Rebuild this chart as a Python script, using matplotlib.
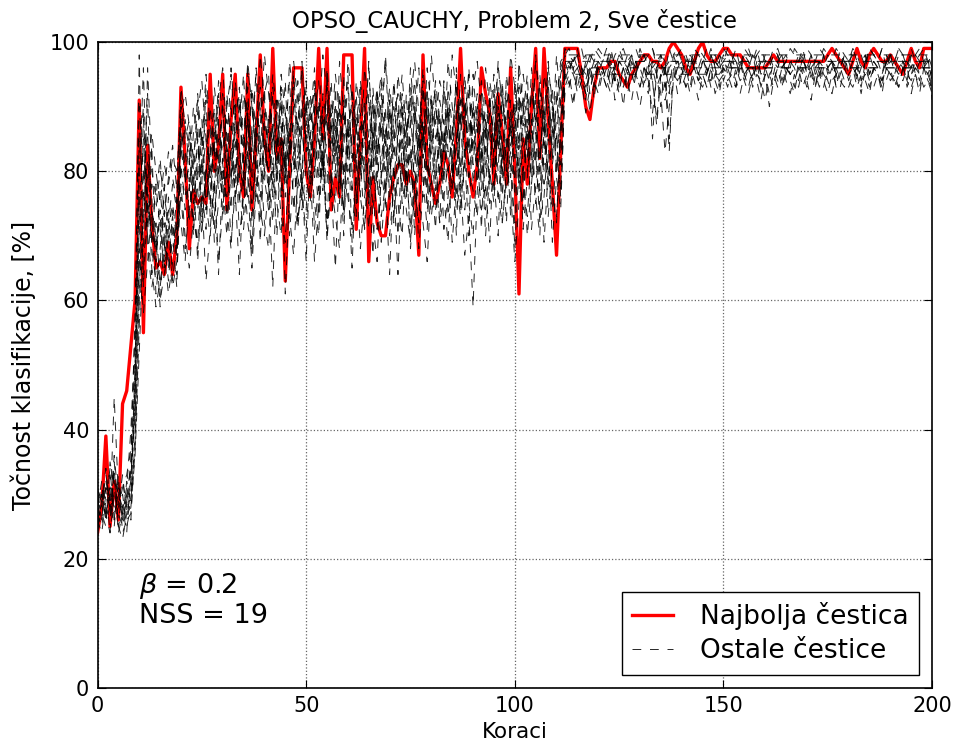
import numpy as np
import matplotlib
matplotlib.use("Agg")
import matplotlib.pyplot as plt

# best particle (red)
najbolja = [24, 28, 39, 25, 32, 26, 44, 46, 53, 60, 91,
            55, 84, 72, 65, 66, 64, 69, 64, 70, 93,
            82, 68, 77, 75, 76, 75, 95, 80, 84, 95,
            74, 88, 95, 80, 76, 95, 74, 85, 98, 85,
            80, 99, 82, 85, 63, 80, 96, 96, 96, 80,
            76, 85, 99, 85, 99, 74, 79, 76, 98, 98,
            98, 71, 85, 99, 66, 79, 72, 70, 70, 76,
            79, 81, 81, 78, 80, 78, 67, 98, 81, 78,
            75, 78, 83, 81, 76, 86, 99, 85, 80, 76,
            81, 96, 92, 89, 78, 92, 86, 78, 96, 80,
            61, 85, 78, 90, 99, 82, 99, 88, 78, 67, 83,
            99, 99, 99, 99, 95, 90, 88, 93, 96,
            96, 96, 97, 97, 95, 94, 93, 95, 96, 97,
            98, 98, 97, 97, 96, 97, 99, 100, 99, 98,
            96, 95, 97, 99, 100, 98, 97, 97, 98, 99,
            99, 98, 98, 98, 97, 96, 96, 96, 96, 96,
            97, 98, 97, 97, 97, 97, 97, 97, 97, 97,
            97, 97, 97, 97, 98, 99, 98, 97, 96, 95,
            97, 99, 97, 96, 98, 99, 98, 97, 97, 98,
            97, 96, 95, 97, 99, 97, 96, 99, 99, 99]

# other particles (black dashed)
ostale = [
    [27, 30, 26, 33, 29, 25, 28, 31, 40, 55, 98,
     62, 75, 70, 68, 73, 66, 71, 75, 69, 88,
     80, 74, 78, 85, 72, 79, 90, 83, 77, 92,
     84, 79, 88, 93, 81, 76, 87, 95, 82, 78,
     89, 84, 91, 80, 86, 94, 83, 77, 90, 85,
     81, 92, 88, 79, 95, 84, 90, 78, 86, 93,
     82, 87, 76, 91, 85, 80, 89, 94, 83, 79,
     88, 92, 81, 86, 90, 77, 84, 96, 88, 82,
     91, 85, 79, 93, 87, 81, 95, 89, 84, 90,
     86, 92, 80, 88, 95, 83, 91, 87, 79, 94,
     85, 90, 82, 96, 88, 93, 84, 97, 89, 80, 92,
     97, 97, 96, 97, 95, 93, 96, 97, 97,
     96, 97, 97, 94, 97, 97, 96, 97, 95, 97,
     97, 97, 96, 97, 97, 93, 97, 97, 97, 96,
     97, 97, 97, 95, 97, 97, 97, 97, 96, 97,
     97, 97, 97, 97, 97, 97, 94, 97, 97, 97,
     97, 97, 97, 96, 97, 97, 97, 97, 97, 97,
     95, 97, 97, 97, 97, 97, 96, 97, 97, 97,
     97, 97, 94, 97, 97, 97, 97, 97, 96, 97,
     97, 97, 97, 97, 95, 97, 97, 97, 97, 97],
    [25, 29, 34, 27, 45, 30, 26, 29, 35, 48, 70,
     85, 68, 62, 66, 60, 64, 70, 67, 72, 80,
     76, 82, 71, 79, 86, 74, 81, 77, 88, 73,
     80, 91, 75, 83, 78, 89, 72, 85, 93, 79,
     74, 86, 81, 90, 76, 83, 88, 72, 80, 91,
     78, 84, 73, 89, 82, 76, 93, 80, 74, 87,
     90, 75, 83, 79, 71, 86, 81, 92, 77, 84,
     73, 80, 89, 76, 85, 70, 82, 88, 75, 91,
     79, 72, 86, 83, 77, 90, 74, 81, 95, 78,
     84, 71, 88, 79, 82, 93, 76, 85, 73, 89,
     80, 75, 92, 78, 86, 74, 83, 90, 77, 72, 88,
     96, 96, 96, 96, 96, 92, 96, 96, 96,
     96, 96, 96, 96, 93, 96, 96, 96, 96, 96,
     96, 95, 96, 96, 96, 96, 96, 96, 96, 96,
     96, 96, 96, 96, 96, 96, 96, 96, 96, 96,
     96, 96, 96, 96, 96, 96, 96, 96, 96, 96,
     96, 96, 96, 96, 96, 96, 96, 96, 96, 96,
     96, 96, 96, 96, 96, 96, 96, 96, 96, 96,
     96, 96, 96, 96, 96, 96, 96, 96, 96, 96,
     96, 96, 96, 96, 96, 96, 96, 96, 96, 96],
    [30, 26, 31, 24, 35, 28, 33, 27, 30, 45, 78,
     96, 72, 78, 74, 80, 77, 83, 79, 75, 91,
     85, 88, 80, 92, 84, 95, 87, 82, 94, 89,
     83, 96, 88, 92, 85, 97, 90, 84, 98, 91,
     86, 95, 89, 93, 82, 97, 91, 87, 96, 90,
     85, 94, 88, 98, 92, 86, 95, 89, 83, 97,
     91, 87, 94, 88, 96, 84, 92, 89, 97, 85,
     93, 88, 95, 86, 91, 97, 89, 84, 96, 90,
     87, 94, 91, 85, 98, 92, 88, 95, 86, 93,
     97, 90, 85, 94, 89, 96, 91, 87, 98, 93,
     88, 95, 90, 86, 97, 92, 89, 96, 91, 85, 94,
     99, 98, 97, 99, 96, 94, 97, 99, 98,
     97, 99, 96, 98, 99, 97, 95, 98, 99, 97,
     98, 96, 99, 97, 98, 95, 99, 97, 98, 99,
     97, 98, 96, 99, 98, 97, 99, 96, 98, 97,
     99, 98, 97, 96, 99, 98, 97, 99, 96, 98,
     97, 99, 98, 96, 97, 99, 98, 97, 99, 96,
     98, 97, 99, 98, 96, 97, 99, 98, 97, 96,
     99, 97, 98, 96, 99, 98, 97, 99, 98, 96,
     97, 99, 98, 97, 96, 98, 99, 97, 98, 96],
    [28, 32, 27, 30, 26, 33, 24, 26, 29, 38, 60,
     74, 80, 65, 59, 63, 67, 61, 66, 64, 78,
     70, 65, 73, 68, 76, 63, 71, 79, 66, 74,
     82, 69, 77, 64, 80, 72, 67, 85, 74, 70,
     78, 62, 81, 73, 69, 84, 76, 71, 79, 66,
     83, 75, 70, 86, 72, 78, 65, 81, 74, 88,
     69, 76, 82, 71, 79, 67, 84, 73, 78, 64,
     80, 75, 70, 83, 68, 77, 72, 86, 74, 79,
     71, 85, 76, 69, 82, 74, 78, 67, 73, 59,
     77, 84, 70, 80, 75, 88, 72, 79, 83, 68,
     81, 74, 87, 71, 78, 84, 69, 80, 76, 73, 85,
     95, 93, 96, 92, 94, 89, 93, 95, 96,
     94, 96, 93, 95, 92, 96, 94, 91, 95, 93,
     96, 94, 89, 95, 92, 83, 90, 94, 96, 93,
     95, 92, 96, 94, 93, 95, 97, 94, 92, 96,
     94, 95, 93, 96, 94, 92, 95, 96, 93, 95,
     90, 94, 96, 93, 95, 94, 92, 96, 95, 93,
     95, 93, 96, 94, 92, 95, 96, 94, 93, 95,
     96, 93, 95, 94, 92, 96, 95, 93, 94, 96,
     93, 95, 94, 96, 93, 95, 92, 96, 94, 93],
    [26, 24, 29, 31, 27, 29, 32, 28, 33, 42, 65,
     79, 86, 73, 69, 71, 76, 72, 78, 74, 85,
     79, 72, 83, 77, 70, 81, 75, 86, 80, 76,
     88, 82, 78, 91, 84, 80, 93, 86, 81, 89,
     83, 92, 78, 87, 80, 90, 85, 79, 88, 94,
     82, 87, 91, 80, 85, 89, 83, 92, 79, 84,
     88, 81, 93, 77, 86, 90, 82, 87, 80, 91,
     85, 78, 89, 83, 92, 81, 86, 76, 90, 84,
     88, 80, 94, 83, 87, 79, 91, 85, 82, 89,
     81, 90, 86, 78, 93, 84, 88, 80, 91, 85,
     79, 92, 84, 88, 81, 95, 86, 80, 90, 83, 87,
     97, 97, 97, 97, 97, 97, 97, 91, 97,
     97, 97, 97, 97, 97, 97, 97, 97, 97, 97,
     97, 97, 97, 97, 97, 97, 97, 97, 97, 97,
     97, 97, 97, 97, 97, 97, 97, 97, 97, 97,
     97, 97, 97, 97, 97, 97, 97, 97, 97, 97,
     97, 97, 97, 97, 97, 97, 97, 97, 97, 97,
     97, 97, 97, 97, 97, 97, 97, 97, 97, 97,
     97, 97, 97, 97, 97, 97, 97, 97, 97, 97,
     97, 97, 97, 97, 97, 97, 97, 97, 97, 97],
    [29, 27, 25, 35, 31, 26, 30, 25, 28, 36, 52,
     68, 96, 80, 76, 82, 73, 79, 84, 77, 93,
     87, 81, 90, 84, 78, 93, 86, 80, 91, 96,
     85, 78, 94, 88, 82, 96, 90, 83, 87, 98,
     92, 86, 80, 95, 89, 84, 97, 91, 85, 93,
     88, 96, 82, 90, 86, 94, 80, 97, 89, 85,
     93, 87, 81, 96, 90, 84, 92, 86, 98, 88,
     83, 95, 89, 85, 93, 87, 96, 82, 91, 86,
     94, 88, 83, 97, 90, 85, 92, 87, 96, 81,
     89, 94, 86, 91, 84, 97, 88, 93, 85, 90,
     95, 87, 92, 83, 98, 89, 86, 94, 82, 91, 96,
     98, 99, 97, 98, 99, 96, 98, 97, 99,
     98, 97, 99, 96, 98, 99, 97, 98, 96, 99,
     97, 98, 99, 96, 98, 97, 92, 98, 99, 97,
     98, 96, 99, 98, 97, 99, 98, 96, 97, 99,
     98, 97, 99, 96, 98, 99, 97, 98, 99, 97,
     96, 98, 99, 97, 98, 96, 99, 98, 97, 99,
     98, 96, 97, 99, 98, 97, 96, 99, 98, 97,
     99, 98, 96, 97, 99, 98, 97, 99, 96, 98,
     97, 99, 98, 96, 99, 97, 98, 99, 97, 95],
    [24, 30, 28, 26, 34, 25, 23, 27, 31, 50, 82,
     90, 70, 64, 72, 62, 68, 74, 63, 70, 76,
     68, 74, 80, 66, 77, 71, 84, 69, 75, 82,
     73, 79, 86, 70, 76, 83, 68, 78, 72, 87,
     75, 81, 70, 85, 61, 77, 83, 72, 79, 74,
     86, 71, 78, 83, 69, 80, 75, 88, 73, 79,
     65, 82, 76, 71, 85, 74, 80, 69, 78, 83,
     72, 87, 75, 80, 71, 84, 68, 77, 82, 73,
     79, 86, 71, 76, 83, 70, 89, 74, 80, 77,
     73, 82, 88, 75, 79, 70, 85, 77, 81, 72,
     86, 78, 73, 83, 76, 70, 88, 79, 74, 82, 77,
     94, 96, 95, 93, 96, 95, 89, 94, 96,
     95, 93, 96, 94, 95, 90, 96, 94, 95, 93,
     96, 95, 94, 87, 95, 96, 93, 95, 94, 96,
     93, 95, 96, 94, 95, 93, 96, 95, 94, 96,
     95, 93, 96, 94, 95, 96, 93, 95, 94, 91,
     95, 96, 94, 93, 96, 95, 94, 96, 93, 95,
     96, 94, 95, 93, 96, 94, 95, 96, 94, 93,
     95, 96, 94, 95, 93, 96, 95, 94, 96, 95,
     94, 93, 96, 95, 94, 96, 95, 93, 94, 96],
    [31, 28, 33, 29, 25, 32, 27, 30, 26, 40, 62,
     77, 70, 84, 66, 74, 69, 63, 72, 68, 90,
     83, 77, 86, 91, 79, 85, 73, 88, 82, 78,
     92, 84, 79, 87, 95, 81, 86, 76, 90, 84,
     80, 93, 87, 76, 89, 82, 95, 86, 79, 91,
     84, 79, 90, 85, 93, 78, 87, 82, 95, 80,
     86, 92, 79, 88, 83, 91, 77, 89, 84, 93,
     87, 81, 90, 78, 88, 94, 83, 86, 80, 92,
     85, 89, 78, 91, 84, 95, 80, 87, 92, 83,
     88, 79, 91, 84, 87, 80, 94, 83, 89, 76,
     92, 85, 80, 93, 87, 82, 90, 78, 86, 94, 81,
     96, 97, 95, 96, 97, 98, 92, 96, 97,
     95, 97, 96, 94, 97, 96, 98, 95, 97, 96,
     94, 97, 85, 96, 97, 95, 83, 96, 97, 95,
     97, 96, 98, 95, 97, 96, 94, 97, 96, 98,
     95, 97, 96, 97, 95, 96, 98, 97, 95, 96,
     97, 95, 98, 96, 97, 95, 96, 97, 98, 95,
     96, 97, 95, 98, 96, 97, 95, 96, 98, 97,
     95, 96, 97, 98, 95, 97, 96, 95, 97, 98,
     96, 95, 97, 96, 98, 97, 95, 96, 97, 94],
    [27, 25, 30, 28, 32, 30, 28, 24, 35, 58, 90,
     80, 76, 69, 78, 71, 65, 76, 70, 62, 84,
     78, 85, 75, 82, 88, 76, 83, 90, 79, 86,
     81, 74, 89, 83, 77, 91, 80, 87, 83, 93,
     77, 88, 83, 91, 79, 86, 81, 94, 76, 87,
     92, 80, 85, 77, 90, 83, 88, 75, 91, 82,
     77, 89, 84, 80, 92, 78, 86, 81, 90, 76,
     90, 84, 77, 92, 81, 88, 79, 85, 93, 78,
     83, 91, 87, 80, 86, 93, 78, 90, 81, 87,
     92, 77, 84, 89, 80, 86, 93, 81, 87, 91,
     77, 89, 95, 81, 84, 91, 78, 87, 93, 80, 86,
     97, 95, 98, 96, 94, 97, 95, 93, 97,
     96, 94, 98, 95, 97, 96, 93, 97, 95, 98,
     96, 93, 97, 95, 90, 97, 85, 94, 96, 97,
     95, 98, 96, 94, 97, 95, 98, 96, 93, 97,
     96, 98, 95, 97, 94, 96, 98, 95, 97, 96,
     94, 97, 96, 98, 95, 97, 96, 94, 98, 95,
     97, 96, 94, 98, 95, 97, 93, 96, 98, 95,
     97, 94, 96, 98, 95, 97, 96, 94, 97, 98,
     95, 97, 96, 94, 98, 95, 97, 96, 95, 97],
    [25, 27, 31, 30, 28, 27, 25, 29, 32, 46, 72,
     88, 74, 72, 67, 77, 70, 65, 74, 71, 86,
     80, 86, 78, 74, 83, 88, 79, 84, 92, 81,
     76, 87, 83, 90, 79, 85, 92, 80, 76, 88,
     84, 78, 91, 86, 80, 88, 93, 82, 86, 80,
     90, 85, 79, 92, 87, 81, 86, 90, 78, 88,
     84, 80, 89, 85, 78, 93, 83, 88, 75, 90,
     82, 89, 84, 79, 87, 91, 80, 88, 84, 90,
     77, 88, 83, 90, 79, 84, 91, 82, 88, 85,
     80, 89, 83, 87, 77, 90, 84, 80, 88, 82,
     90, 83, 86, 79, 92, 85, 81, 88, 84, 91, 97,
     98, 98, 98, 98, 98, 98, 98, 98, 98,
     98, 98, 98, 98, 98, 98, 98, 98, 98, 98,
     98, 98, 98, 98, 98, 98, 98, 98, 98, 98,
     98, 98, 98, 98, 98, 98, 98, 98, 98, 98,
     98, 98, 98, 98, 98, 98, 98, 98, 98, 98,
     98, 98, 98, 98, 98, 98, 98, 98, 98, 98,
     98, 98, 98, 98, 98, 98, 98, 98, 98, 98,
     98, 98, 98, 98, 98, 98, 98, 98, 98, 98,
     98, 98, 98, 98, 98, 98, 98, 98, 98, 98],
    [30, 29, 27, 24, 30, 31, 29, 26, 27, 37, 56,
     72, 82, 76, 61, 68, 74, 67, 62, 66, 81,
     74, 79, 70, 87, 73, 80, 76, 71, 85, 78,
     70, 83, 76, 81, 73, 88, 75, 82, 69, 84,
     79, 72, 86, 77, 83, 70, 80, 88, 74, 81,
     75, 90, 77, 82, 72, 87, 79, 84, 70, 86,
     78, 73, 87, 82, 76, 84, 71, 79, 86, 74,
     81, 70, 85, 77, 83, 73, 88, 79, 71, 86,
     74, 80, 88, 73, 79, 85, 76, 82, 70, 91,
     78, 86, 74, 81, 90, 76, 83, 72, 87, 79,
     84, 71, 79, 88, 75, 82, 90, 73, 81, 86, 76,
     92, 94, 90, 95, 93, 91, 96, 94, 92,
     95, 93, 96, 91, 94, 96, 92, 95, 93, 90,
     94, 92, 96, 93, 95, 91, 94, 96, 92, 95,
     93, 96, 94, 91, 95, 93, 96, 92, 94, 95,
     93, 96, 94, 92, 95, 93, 96, 94, 91, 95,
     92, 95, 93, 96, 94, 92, 95, 93, 96, 94,
     91, 95, 93, 96, 94, 92, 95, 93, 96, 94,
     93, 95, 92, 96, 94, 93, 95, 92, 96, 94,
     95, 93, 96, 94, 92, 95, 93, 96, 94, 92],
    [26, 31, 29, 34, 26, 28, 31, 33, 37, 52, 76,
     64, 78, 86, 80, 75, 81, 78, 82, 80, 89,
     92, 87, 82, 89, 94, 85, 80, 93, 87, 83,
     90, 95, 86, 79, 92, 88, 83, 96, 89, 92,
     95, 81, 88, 84, 94, 79, 90, 86, 97, 83,
     89, 93, 85, 80, 96, 87, 82, 91, 88, 95,
     80, 94, 88, 85, 97, 82, 90, 95, 87, 81,
     94, 86, 91, 83, 96, 88, 82, 93, 87, 98,
     90, 84, 93, 88, 80, 96, 86, 91, 83, 95,
     87, 82, 96, 90, 86, 93, 80, 95, 89, 84,
     97, 90, 85, 92, 88, 80, 95, 91, 86, 98, 90,
     95, 95, 95, 95, 95, 95, 95, 95, 95,
     95, 95, 95, 95, 95, 95, 95, 95, 95, 95,
     95, 95, 95, 95, 95, 95, 95, 95, 95, 95,
     95, 95, 95, 95, 95, 95, 95, 95, 95, 96,
     96, 96, 96, 96, 96, 96, 96, 96, 96, 96,
     96, 96, 96, 96, 96, 96, 96, 96, 96, 96,
     96, 96, 96, 96, 96, 96, 96, 96, 96, 96,
     96, 96, 96, 96, 96, 96, 96, 96, 96, 96,
     96, 96, 96, 96, 96, 96, 96, 96, 96, 96],
    [28, 26, 32, 29, 33, 24, 27, 30, 34, 44, 68,
     58, 66, 74, 70, 59, 72, 66, 69, 76, 72,
     66, 78, 73, 69, 82, 75, 70, 78, 64, 80,
     74, 68, 81, 76, 71, 79, 65, 77, 82, 72,
     68, 80, 75, 70, 83, 73, 67, 79, 76, 71,
     80, 66, 75, 82, 70, 78, 73, 68, 81, 76,
     71, 79, 68, 76, 82, 72, 66, 80, 75, 70,
     78, 64, 81, 74, 69, 80, 75, 72, 66, 79,
     83, 72, 76, 81, 69, 78, 73, 84, 75, 70,
     82, 74, 78, 69, 85, 76, 72, 80, 77, 66,
     75, 81, 70, 78, 83, 72, 76, 85, 69, 79, 74,
     93, 95, 91, 96, 94, 92, 95, 97, 93,
     96, 94, 92, 97, 95, 93, 96, 94, 97, 95,
     93, 96, 94, 88, 95, 93, 96, 97, 94, 95,
     96, 93, 97, 95, 94, 96, 93, 95, 97, 94,
     96, 94, 93, 97, 95, 96, 94, 97, 93, 96,
     95, 93, 97, 94, 96, 95, 93, 97, 95, 94,
     96, 93, 97, 95, 94, 96, 93, 95, 97, 94,
     96, 95, 93, 97, 94, 96, 95, 93, 97, 95,
     94, 96, 97, 93, 95, 96, 94, 97, 95, 93],
    [29, 31, 26, 28, 36, 29, 26, 32, 29, 48, 86,
     76, 92, 68, 63, 65, 78, 69, 73, 67, 83,
     88, 83, 76, 80, 86, 91, 78, 73, 81, 90,
     79, 86, 91, 75, 83, 93, 77, 89, 85, 80,
     88, 76, 84, 92, 78, 87, 74, 83, 91, 86,
     79, 89, 94, 83, 78, 91, 85, 76, 90, 82,
     92, 85, 80, 89, 75, 87, 93, 78, 86, 91,
     79, 85, 92, 87, 76, 90, 84, 94, 77, 88,
     93, 78, 85, 90, 82, 76, 88, 93, 79, 86,
     90, 85, 77, 92, 83, 89, 79, 91, 84, 87,
     93, 80, 88, 84, 91, 77, 86, 93, 82, 88, 95,
     98, 96, 97, 98, 95, 96, 98, 97, 95,
     97, 98, 95, 96, 98, 97, 96, 98, 95, 97,
     98, 96, 97, 95, 98, 96, 97, 98, 96, 97,
     95, 98, 97, 96, 98, 95, 97, 98, 96, 97,
     98, 96, 97, 95, 98, 97, 96, 98, 95, 97,
     98, 96, 97, 98, 95, 97, 96, 98, 97, 96,
     98, 95, 97, 96, 98, 97, 95, 98, 96, 97,
     98, 96, 95, 97, 98, 96, 97, 95, 98, 97,
     96, 98, 97, 95, 96, 98, 97, 96, 98, 91],
]

plt.rcParams['mathtext.fontset'] = 'dejavusans'

fig = plt.figure(figsize=(9.56, 7.43), dpi=100)
ax = fig.add_axes([0.102, 0.074, 0.873, 0.8695])

ax.plot(np.arange(len(najbolja)), najbolja, color='red', lw=2.4,
        label='Najbolja čestica')
for i, p in enumerate(ostale):
    ax.plot(np.arange(len(p)), p, color='black', lw=0.7,
            linestyle=(0, (9, 9)), alpha=0.85,
            label='Ostale čestice' if i == 0 else None)

ax.set_xlim(0, 200)
ax.set_ylim(0, 100)
ax.set_xticks([0, 50, 100, 150, 200])
ax.set_yticks([0, 20, 40, 60, 80, 100])
ax.tick_params(direction='in', top=True, right=True, labelsize=15, length=6,
               pad=6)
ax.grid(True, color='0.4', linestyle=':', linewidth=0.9)
for s in ax.spines.values():
    s.set_linewidth(1.2)

ax.set_title('OPSO_CAUCHY, Problem 2, Sve čestice', fontsize=16.5, pad=10)
ax.set_xlabel('Koraci', fontsize=15.5)
ax.set_ylabel('Točnost klasifikacije, [%]', fontsize=17, labelpad=10)

ax.text(10, 10, r'$\beta$ = 0.2' + '\nNSS = 19', fontsize=19.5,
        linespacing=1.12)

leg = ax.legend(loc='lower right', fontsize=19, fancybox=False,
                handlelength=1.55, handletextpad=1.0, labelspacing=0.3,
                borderpad=0.4, borderaxespad=0.5, framealpha=1)
leg.get_frame().set_edgecolor('black')
leg.get_frame().set_linewidth(1.0)

fig.savefig('out.png', dpi=100, facecolor='white')
